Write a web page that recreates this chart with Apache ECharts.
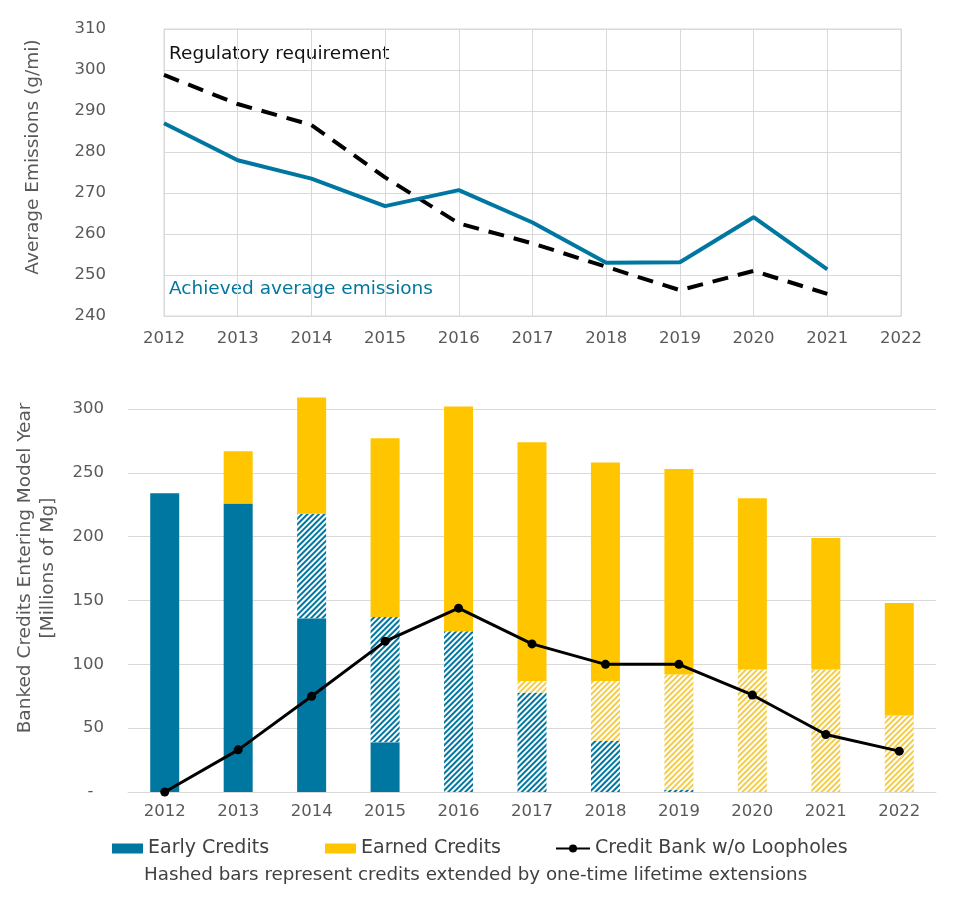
<!DOCTYPE html>
<html>
<head>
<meta charset="utf-8">
<script src="https://cdn.jsdelivr.net/npm/echarts@6/dist/echarts.min.js"></script>
<style>
html,body{margin:0;padding:0;background:#fff;}
#chart{width:954px;height:900px;}
</style>
</head>
<body>
<div id="chart"></div>
<script>
// ---- data ----
var years = ['2012','2013','2014','2015','2016','2017','2018','2019','2020','2021','2022'];
// top panel (g/mi)
var achievedEmissions = [287, 278, 273.5, 266.8, 270.7, 262.8, 253, 253.1, 264.1, 251.4, null];
var regulatoryRequirement = [298.8, 291.7, 286.6, 273.8, 262.6, 257.7, 252, 246.3, 251, 245.4, null];
// bottom panel (millions of Mg)
var earlySolid = [234, 226, 136, 39, 0, 0, 0, 0, 0, 0, 0];
var earlyHatched = [0, 0, 82, 98, 126, 78, 40, 2, 0, 0, 0];
var earnedHatched = [0, 0, 0, 0, 0, 9, 47, 90, 96, 96, 60];
var earnedSolid = [0, 41, 91, 140, 176, 187, 171, 161, 134, 103, 88];
var creditBank = [0, 33, 75, 118, 144, 116, 100, 100, 76, 45, 32];
var topTicks = [240, 250, 260, 270, 280, 290, 300, 310];
var bottomTicks = [0, 50, 100, 150, 200, 250, 300];

var FONT = 'DejaVu Sans';
var BLUE = '#0077A0';
var YELLOW = '#FFC600';
var GRID = '#d9d9d9';
var LABEL = '#595959';

var chart = echarts.init(document.getElementById('chart'), null, {renderer: 'canvas'});

var hatch = function (c) {
  return {symbol: 'rect', symbolSize: 1, dashArrayX: [1, 0], dashArrayY: [1.8, 2], rotation: -Math.PI / 4, color: c};
};

var option = {
  backgroundColor: '#ffffff',
  animation: false,
  textStyle: {fontFamily: FONT},
  grid: [
    {left: 164, right: 53, top: 29, bottom: 584, show: true, borderColor: GRID, borderWidth: 1, containLabel: false},
    {left: 128, right: 18, top: 409, bottom: 108, containLabel: false}
  ],
  xAxis: [
    {type: 'category', gridIndex: 0, data: years, boundaryGap: false,
     axisLine: {show: true, lineStyle: {color: GRID}}, axisTick: {show: false},
     axisLabel: {color: LABEL, fontSize: 16.5, margin: 14, fontFamily: FONT},
     splitLine: {show: true, lineStyle: {color: GRID}}},
    {type: 'category', gridIndex: 1, data: years, boundaryGap: true,
     axisLine: {show: true, lineStyle: {color: GRID}}, axisTick: {show: false},
     axisLabel: {color: LABEL, fontSize: 16.5, margin: 11, fontFamily: FONT},
     splitLine: {show: false}}
  ],
  yAxis: [
    {type: 'value', gridIndex: 0, min: topTicks[0], max: topTicks[topTicks.length - 1], interval: 10,
     axisLine: {show: true, lineStyle: {color: GRID}}, axisTick: {show: false},
     axisLabel: {color: LABEL, fontSize: 16.5, margin: 58, fontFamily: FONT},
     splitLine: {show: true, lineStyle: {color: GRID}}},
    {type: 'value', gridIndex: 1, min: bottomTicks[0], max: bottomTicks[bottomTicks.length - 1], interval: 50,
     axisLine: {show: false}, axisTick: {show: false},
     axisLabel: {color: LABEL, fontSize: 16.5, margin: 24, fontFamily: FONT,
       formatter: function (v) { return v === 0 ? '-  ' : String(v); }},
     splitLine: {show: true, lineStyle: {color: GRID}}}
  ],
  legend: [
    {data: ['Early Credits'], left: 107, top: 834, itemWidth: 31, itemHeight: 10, icon: 'rect',
     textStyle: {color: '#404040', fontSize: 19, fontFamily: FONT}},
    {data: ['Earned Credits'], left: 320, top: 834, itemWidth: 31, itemHeight: 10, icon: 'rect',
     textStyle: {color: '#404040', fontSize: 19, fontFamily: FONT}},
    {data: ['Credit Bank w/o Loopholes'], left: 550, top: 834, itemWidth: 34, itemHeight: 10,
     textStyle: {color: '#404040', fontSize: 19, fontFamily: FONT}}
  ],
  graphic: [
    {type: 'text', x: 33, y: 157, rotation: Math.PI / 2,
     style: {text: 'Average Emissions (g/mi)', fill: LABEL, font: '18.5px "' + FONT + '"', textAlign: 'center', textVerticalAlign: 'middle'}},
    {type: 'text', x: 25, y: 568, rotation: Math.PI / 2,
     style: {text: 'Banked Credits Entering Model Year', fill: LABEL, font: '18.5px "' + FONT + '"', textAlign: 'center', textVerticalAlign: 'middle'}},
    {type: 'text', x: 48, y: 568, rotation: Math.PI / 2,
     style: {text: '[Millions of Mg]', fill: LABEL, font: '18.5px "' + FONT + '"', textAlign: 'center', textVerticalAlign: 'middle'}},
    {type: 'text', x: 169, y: 54,
     style: {text: 'Regulatory requirement', fill: '#111111', font: '18.5px "' + FONT + '"', textAlign: 'left', textVerticalAlign: 'middle'}},
    {type: 'text', x: 169, y: 289,
     style: {text: 'Achieved average emissions', fill: BLUE, font: '18.5px "' + FONT + '"', textAlign: 'left', textVerticalAlign: 'middle'}},
    {type: 'text', x: 144, y: 875,
     style: {text: 'Hashed bars represent credits extended by one-time lifetime extensions', fill: '#404040', font: '18.3px "' + FONT + '"', textAlign: 'left', textVerticalAlign: 'middle'}}
  ],
  series: [
    {name: 'Regulatory requirement', type: 'line', xAxisIndex: 0, yAxisIndex: 0, data: regulatoryRequirement,
     symbol: 'none', lineStyle: {color: '#000', width: 4, type: [16, 10]}, z: 3},
    {name: 'Achieved average emissions', type: 'line', xAxisIndex: 0, yAxisIndex: 0, data: achievedEmissions,
     symbol: 'none', lineStyle: {color: BLUE, width: 4}, z: 4},

    {name: 'Early Credits', type: 'bar', xAxisIndex: 1, yAxisIndex: 1, stack: 'b', data: earlySolid,
     barWidth: 29, clip: false, itemStyle: {color: BLUE}},
    {name: 'Early Credits (extended)', type: 'bar', xAxisIndex: 1, yAxisIndex: 1, stack: 'b', data: earlyHatched,
     barWidth: 29, clip: false, itemStyle: {color: '#ffffff', decal: hatch(BLUE)}},
    {name: 'Earned Credits (extended)', type: 'bar', xAxisIndex: 1, yAxisIndex: 1, stack: 'b', data: earnedHatched,
     barWidth: 29, clip: false, itemStyle: {color: '#ffffff', decal: hatch('#F3CC4A')}},
    {name: 'Earned Credits', type: 'bar', xAxisIndex: 1, yAxisIndex: 1, stack: 'b', data: earnedSolid,
     barWidth: 29, clip: false, itemStyle: {color: YELLOW}},
    {name: 'Credit Bank w/o Loopholes', type: 'line', xAxisIndex: 1, yAxisIndex: 1, data: creditBank,
     symbol: 'circle', symbolSize: 9, itemStyle: {color: '#000'}, lineStyle: {color: '#000', width: 3}, z: 5}
  ]
};
chart.setOption(option);
</script>
</body>
</html>
